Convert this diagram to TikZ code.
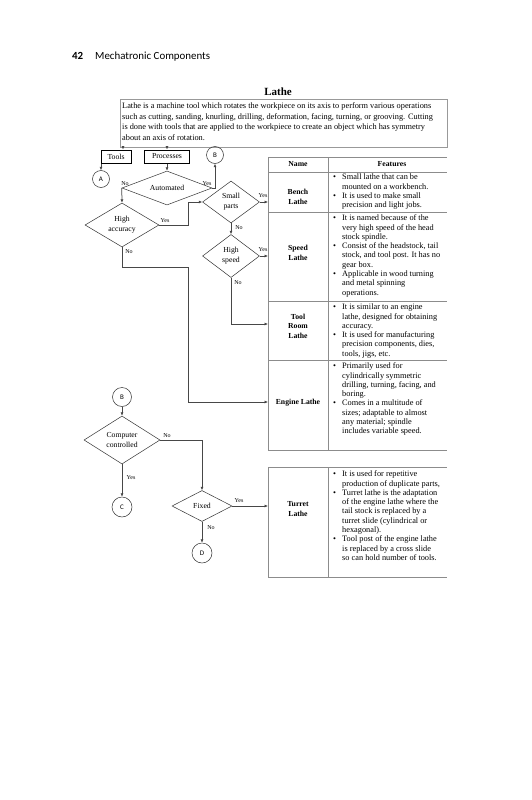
\documentclass[tikz,border=0pt]{standalone}
\usepackage{fontspec}
\setmainfont{Liberation Serif}
\newfontfamily\hdrfont{Carlito}
\usetikzlibrary{shapes.geometric,arrows.meta,calc}
\begin{document}
\begin{tikzpicture}[x=1pt,y=-1pt,
  conn/.style={draw=black!72, line width=0.75pt, -{Latex[length=3.4pt,width=3pt]}},
  dia/.style={diamond, draw=black!80, line width=0.5pt, inner sep=0pt},
  boxn/.style={draw=black, line width=1pt, minimum height=13pt, inner sep=0pt, font=\fontsize{7.7}{9}\selectfont},
  circ/.style={circle, draw=black!80, line width=0.5pt, inner sep=0pt, font=\hdrfont\fontsize{7}{8}\selectfont},
  ftxt/.style={align=center, inner sep=0pt, font=\fontsize{7.7}{10}\selectfont},
  yn/.style={inner sep=0pt, font=\fontsize{6}{7}\selectfont},
  grid/.style={draw=black!45, line width=0.5pt},
  nm/.style={align=center, inner sep=0pt, font=\bfseries\fontsize{7.7}{9.4}\selectfont},
  feat/.style={anchor=north west, inner sep=0pt, font=\fontsize{8.3}{9.3}\selectfont},
]
\useasboundingbox (0,0) rectangle (531,800);
\fill[white] (0,0) rectangle (531,800);

% running head
\node[anchor=base west, inner sep=0pt, font=\hdrfont\bfseries\fontsize{10.9}{12}\selectfont] (pgnum) at (72,59.5) {42};
\node[anchor=base west, inner sep=0pt, font=\hdrfont\fontsize{10.9}{12}\selectfont] (runhead) at (95,59.5) {Mechatronic Components};

% title and intro
\node[anchor=base, inner sep=0pt, font=\bfseries\fontsize{11}{13}\selectfont] (title) at (278,95) {Lathe};
\node[draw=black!40, line width=0.6pt, anchor=north west, minimum width=327pt, minimum height=48pt, inner sep=0pt] (intro) at (120,99) {};
\node[anchor=north west, inner sep=0pt, align=left, font=\fontsize{8.3}{10.8}\selectfont] (introtxt) at (122,100.6) {\strut Lathe is a machine tool which rotates the workpiece on its axis to perform various operations\\
such as cutting, sanding, knurling, drilling, deformation, facing, turning, or grooving. Cutting\\
is done with tools that are applied to the workpiece to create an object which has symmetry\\
about an axis of rotation.};

% top flow
\node[boxn, minimum width=30pt] (tools) at (116,156.5) {Tools};
\node[boxn, minimum width=45pt] (proc) at (167,156.5) {Processes};
\node[circ, minimum size=17pt] (b1) at (215,155) {B};
\node[circ, minimum size=17pt] (a) at (101,179) {A};
\coordinate (i1) at (123,147);
\coordinate (i2) at (167,147);
\draw[conn] (i1) -- (i1 |- tools.north);
\draw[conn] (i2) -- (proc.north);
\draw[conn] (tools.south -| a) -- (a.north);

\node[dia, minimum width=90pt, minimum height=34pt] (auto) at (167,188) {};
\node[ftxt] (autot) at (auto) {Automated};
\draw[conn] (proc.south) -- (auto.north);
\draw[conn] (auto.east) -- (auto.east -| b1) -- (b1.south);
\node[yn] (autoy) at (207,183.5) {Yes};
\node[yn] (auton) at (125,183.5) {No};

\node[dia, minimum width=74pt, minimum height=44pt] (hacc) at (122,225) {};
\node[ftxt] (hacct) at (hacc) {High\\accuracy};
\draw[conn] (auto.west) -- (hacc.north);

\node[dia, minimum width=57pt, minimum height=42pt] (small) at (231,202) {};
\node[ftxt] (smallt) at (small) {Small\\parts};
\node[dia, minimum width=57pt, minimum height=43pt] (hspd) at (231,256) {};
\node[ftxt] (hspdt) at (hspd) {High\\speed};

\coordinate (jx) at (188,0);
\coordinate (jy) at (0,267);
\coordinate (tbench) at (268,202);
\coordinate (tspeed) at (268,256);
\coordinate (ttool) at (268,324);
\coordinate (teng) at (268,402);
\coordinate (tturret) at (268,506);

\draw[conn] (hacc.east) -- (hacc.east -| jx) |- (small.west);
\node[yn] (haccy) at (165,221) {Yes};
\draw[conn] (hacc.south) -- (hacc.south |- jy) -- (jx |- jy) -- (jx |- teng) -- (teng);
\node[yn] (haccn) at (129,252) {No};

\draw[conn] (small.east) -- (tbench);
\node[yn] (smally) at (263,196) {Yes};
\draw[conn] (small.south) -- (hspd.north);
\node[yn] (smalln) at (239,228) {No};
\draw[conn] (hspd.east) -- (tspeed);
\node[yn] (hspdy) at (263,250) {Yes};
\draw[conn] (hspd.south) -- (hspd.south |- ttool) -- (ttool);
\node[yn] (hspdn) at (238,283) {No};

% lower flow
\node[circ, minimum size=19pt] (b2) at (122,397) {B};
\node[dia, minimum width=76pt, minimum height=48pt] (comp) at (122,440) {};
\node[ftxt] (compt) at (comp) {Computer\\controlled};
\draw[conn] (b2.south) -- (comp.north);
\node[circ, minimum size=20pt] (c) at (122,507) {C};
\node[dia, minimum width=60pt, minimum height=31pt] (fixed) at (202,506) {};
\node[ftxt] (fixedt) at (fixed) {Fixed};
\node[circ, minimum size=20pt] (d) at (202,553) {D};
\draw[conn] (comp.east) -- (comp.east -| fixed) -- (fixed.north);
\node[yn] (compn) at (167,436) {No};
\draw[conn] (comp.south) -- (c.north);
\node[yn] (compy) at (131,478) {Yes};
\draw[conn] (fixed.east) -- (tturret);
\node[yn] (fixedy) at (239,501) {Yes};
\draw[conn] (fixed.south) -- (d.north);
\node[yn] (fixedn) at (211,528) {No};

% table 1
\draw[grid] (268,157) -- (447,157) (268,172) -- (447,172) (268,212) -- (447,212)
  (268,301) -- (447,301) (268,360) -- (447,360) (268,450) -- (447,450);
\draw[grid] (268,157) -- (268,450) (328,157) -- (328,450);
\node[nm] (hname) at (298,164.5) {Name};
\node[nm] (hfeat) at (392,164.5) {Features};
\node[nm] (nbench) at (298,197) {Bench\\Lathe};
\node[nm] (nspeed) at (298,253) {Speed\\Lathe};
\node[nm] (ntool) at (298,326) {Tool\\Room\\Lathe};
\node[nm] (neng) at (298,403) {Engine Lathe};

\node[feat] (fbench) at (333,173) {\begin{tabular}{@{}l@{}l@{}}
\makebox[9pt][l]{\textbullet} & Small lathe that can be\\
 & mounted on a workbench.\\
\makebox[9pt][l]{\textbullet} & It is used to make small\\
 & precision and light jobs.\end{tabular}};
\node[feat] (fspeed) at (333,214) {\begin{tabular}{@{}l@{}l@{}}
\makebox[9pt][l]{\textbullet} & It is named because of the\\
 & very high speed of the head\\
 & stock spindle.\\
\makebox[9pt][l]{\textbullet} & Consist of the headstock, tail\\
 & stock, and tool post. It has no\\
 & gear box.\\
\makebox[9pt][l]{\textbullet} & Applicable in wood turning\\
 & and metal spinning\\
 & operations.\end{tabular}};
\node[feat] (ftool) at (333,303) {\begin{tabular}{@{}l@{}l@{}}
\makebox[9pt][l]{\textbullet} & It is similar to an engine\\
 & lathe, designed for obtaining\\
 & accuracy.\\
\makebox[9pt][l]{\textbullet} & It is used for manufacturing\\
 & precision components, dies,\\
 & tools, jigs, etc.\end{tabular}};
\node[feat] (feng) at (333,362) {\begin{tabular}{@{}l@{}l@{}}
\makebox[9pt][l]{\textbullet} & Primarily used for\\
 & cylindrically symmetric\\
 & drilling, turning, facing, and\\
 & boring.\\
\makebox[9pt][l]{\textbullet} & Comes in a multitude of\\
 & sizes; adaptable to almost\\
 & any material; spindle\\
 & includes variable speed.\end{tabular}};

% table 2
\draw[grid] (268,467) -- (447,467) (268,577) -- (447,577);
\draw[grid] (268,467) -- (268,577) (328,467) -- (328,577);
\node[nm] (nturret) at (298,509) {Turret\\Lathe};
\node[feat] (fturret) at (333,470) {\begin{tabular}{@{}l@{}l@{}}
\makebox[9pt][l]{\textbullet} & It is used for repetitive\\
 & production of duplicate parts,\\
\makebox[9pt][l]{\textbullet} & Turret lathe is the adaptation\\
 & of the engine lathe where the\\
 & tail stock is replaced by a\\
 & turret slide (cylindrical or\\
 & hexagonal).\\
\makebox[9pt][l]{\textbullet} & Tool post of the engine lathe\\
 & is replaced by a cross slide\\
 & so can hold number of tools.\end{tabular}};
\end{tikzpicture}
\end{document}
